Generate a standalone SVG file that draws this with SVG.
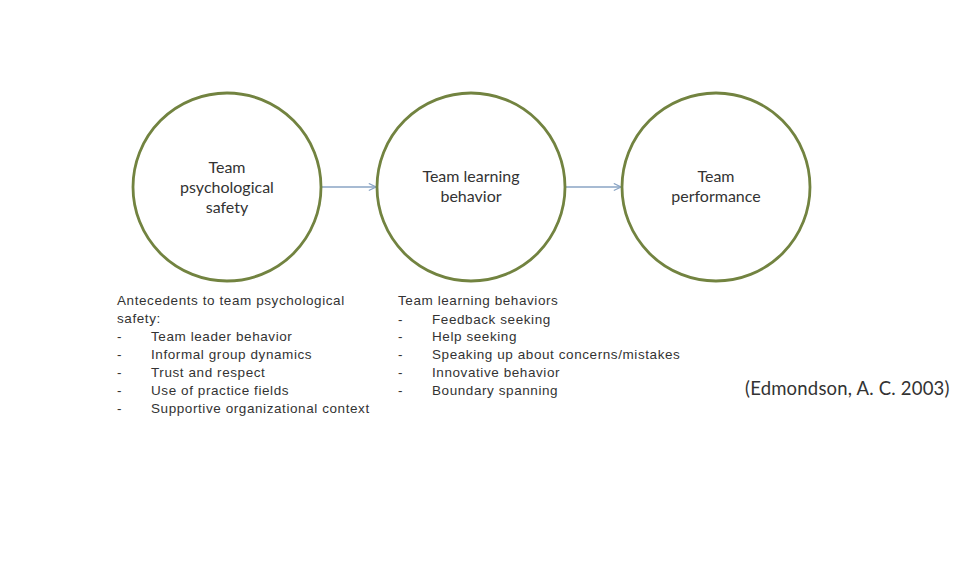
<svg xmlns="http://www.w3.org/2000/svg" width="970" height="582" viewBox="0 0 970 582">
<defs>
<style>
.node{fill:#fff;stroke:#728340;stroke-width:2.8}
.lbl{font-family:Lato,"Open Sans",sans-serif;font-size:16px;fill:#333;text-anchor:middle}
.lst{font-family:"Liberation Sans",Arial,sans-serif;font-size:13.5px;letter-spacing:0.58px;fill:#333}
.edge{stroke:#8aa4c4;stroke-width:1.3;fill:none}
.cite{font-family:Lato,"Open Sans",sans-serif;font-size:18.5px;letter-spacing:0.2px;fill:#333}
</style>
<marker id="arr" viewBox="0 0 10 10" refX="9" refY="5" markerWidth="9" markerHeight="9" markerUnits="userSpaceOnUse" orient="auto">
<path d="M1,1 L9,5 L1,9" fill="none" stroke="#8aa4c4" stroke-width="1.3"/>
</marker>
</defs>
<rect width="970" height="582" fill="#fff"/>
<g id="connectors">
<line class="edge" x1="322" y1="187" x2="376" y2="187" marker-end="url(#arr)"/>
<line class="edge" x1="566" y1="187" x2="621" y2="187" marker-end="url(#arr)"/>
</g>
<g id="n1">
<circle class="node" cx="227" cy="187" r="94"/>
<text class="lbl" x="227" y="173">Team</text>
<text class="lbl" x="227" y="193">psychological</text>
<text class="lbl" x="227" y="213">safety</text>
</g>
<g id="n2">
<circle class="node" cx="471" cy="187" r="94"/>
<text class="lbl" x="471" y="182">Team learning</text>
<text class="lbl" x="471" y="202">behavior</text>
</g>
<g id="n3">
<circle class="node" cx="716" cy="187" r="94"/>
<text class="lbl" x="716" y="182">Team</text>
<text class="lbl" x="716" y="202">performance</text>
</g>
<g id="antecedents" class="lst">
<text x="117" y="305">Antecedents to team psychological</text>
<text x="117" y="323">safety:</text>
<text x="117" y="341">-</text><text x="151" y="341">Team leader behavior</text>
<text x="117" y="359">-</text><text x="151" y="359">Informal group dynamics</text>
<text x="117" y="377">-</text><text x="151" y="377">Trust and respect</text>
<text x="117" y="395">-</text><text x="151" y="395">Use of practice fields</text>
<text x="117" y="413">-</text><text x="151" y="413">Supportive organizational context</text>
</g>
<g id="behaviors" class="lst">
<text x="398" y="305">Team learning behaviors</text>
<text x="398" y="324">-</text><text x="432" y="324">Feedback seeking</text>
<text x="398" y="341">-</text><text x="432" y="341">Help seeking</text>
<text x="398" y="359">-</text><text x="432" y="359">Speaking up about concerns/mistakes</text>
<text x="398" y="377">-</text><text x="432" y="377">Innovative behavior</text>
<text x="398" y="395">-</text><text x="432" y="395">Boundary spanning</text>
</g>
<text class="cite" x="745" y="395">(Edmondson, A. C. 2003)</text>
</svg>
